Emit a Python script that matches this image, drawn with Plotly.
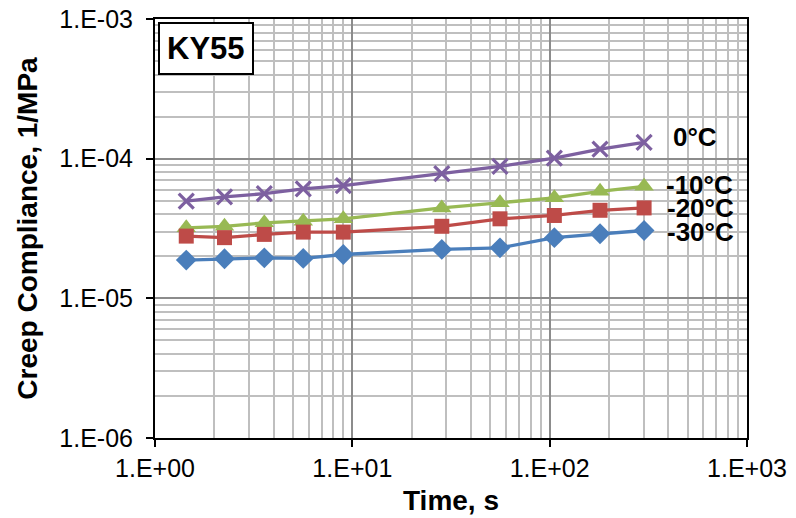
import math
import plotly.graph_objects as go

time_s = [1.44, 2.25, 3.58, 5.64, 9.0, 28.4, 56, 105.6, 180, 301]
c_0 = [4.96e-5, 5.32e-5, 5.62e-5, 6.08e-5, 6.41e-5, 7.81e-5, 8.81e-5, 1.01e-4, 1.17e-4, 1.31e-4]
c_m10 = [3.20e-5, 3.28e-5, 3.47e-5, 3.57e-5, 3.71e-5, 4.44e-5, 4.83e-5, 5.24e-5, 5.84e-5, 6.34e-5]
c_m20 = [2.79e-5, 2.72e-5, 2.87e-5, 2.98e-5, 2.98e-5, 3.28e-5, 3.71e-5, 3.92e-5, 4.27e-5, 4.44e-5]
c_m30 = [1.88e-5, 1.92e-5, 1.95e-5, 1.93e-5, 2.06e-5, 2.24e-5, 2.30e-5, 2.72e-5, 2.90e-5, 3.06e-5]
series_names = ["0°C", "-10°C", "-20°C", "-30°C"]
x_tickvals = [1, 10, 100, 1000]
x_ticktext = ["1.E+00", "1.E+01", "1.E+02", "1.E+03"]
y_tickvals = [1e-6, 1e-5, 1e-4, 1e-3]
y_ticktext = ["1.E-06", "1.E-05", "1.E-04", "1.E-03"]

# label anchor positions (data units)
label_x = [410, 380, 385, 385]
label_y = [1.42e-4, 6.5e-5, 4.45e-5, 3.0e-5]

FONT = "Arial, Liberation Sans, sans-serif"

styles = [
    dict(color="#7d60a0", symbol="x-thin", size=15),
    dict(color="#98b954", symbol="triangle-up", size=17),
    dict(color="#be4b48", symbol="square", size=15),
    dict(color="#4a7ebb", symbol="diamond", size=16),
]
data = [c_0, c_m10, c_m20, c_m30]

fig = go.Figure()
for name, ys, st in zip(series_names, data, styles):
    marker = dict(color=st["color"], symbol=st["symbol"], size=st["size"])
    if st["symbol"] == "x-thin":
        marker["line"] = dict(color=st["color"], width=3.2)
    fig.add_trace(go.Scatter(x=time_s, y=ys, mode="lines+markers", name=name,
                             line=dict(color=st["color"], width=3.3), marker=marker))

for txt, lx, ly in zip(series_names, label_x, label_y):
    fig.add_annotation(x=math.log10(lx), y=math.log10(ly), xref="x", yref="y",
                       text="<b>" + txt + "</b>", showarrow=False,
                       xanchor="left", yanchor="middle",
                       font=dict(family=FONT, size=26, color="black"))

fig.add_annotation(x=0.005, y=0.993, xref="paper", yref="paper", text="<b>KY55</b>", showarrow=False,
                   xanchor="left", yanchor="top", bgcolor="white", bordercolor="black", borderwidth=2,
                   borderpad=7, font=dict(family=FONT, size=31, color="black"))

axis_common = dict(type="log", showline=True, linecolor="black", linewidth=2, mirror=True,
                   ticks="outside", ticklen=7, tickcolor="black", tickwidth=2,
                   showgrid=True, gridcolor="#8c8c8c", gridwidth=2,
                   minor=dict(showgrid=True, gridcolor="#bfbfbf", gridwidth=1.5, dtick="D1", ticks=""),
                   tickfont=dict(family=FONT, size=25, color="black"),
                   ticklabeloverflow="allow",
                   zeroline=False, automargin=False)

fig.update_xaxes(**axis_common, range=[0, 3], tickvals=x_tickvals, ticktext=x_ticktext,
                 title=dict(text="<b>Time, s</b>", font=dict(family=FONT, size=28, color="black"), standoff=9))
fig.update_yaxes(**axis_common, range=[-6, -3], tickvals=y_tickvals, ticktext=y_ticktext,
                 ticklabelstandoff=8,
                 title=dict(text="<b>Creep Compliance, 1/MPa</b>", font=dict(family=FONT, size=28, color="black"), standoff=14))

fig.update_layout(width=796, height=518, margin=dict(l=155, r=49, t=19, b=80),
                  paper_bgcolor="white", plot_bgcolor="white", showlegend=False)

# remove the default 8px page margin so the figure fills the 796x518 window exactly
fig.write_html("out.html", config={"displayModeBar": False},
               post_script="document.body.style.margin='0px';")
